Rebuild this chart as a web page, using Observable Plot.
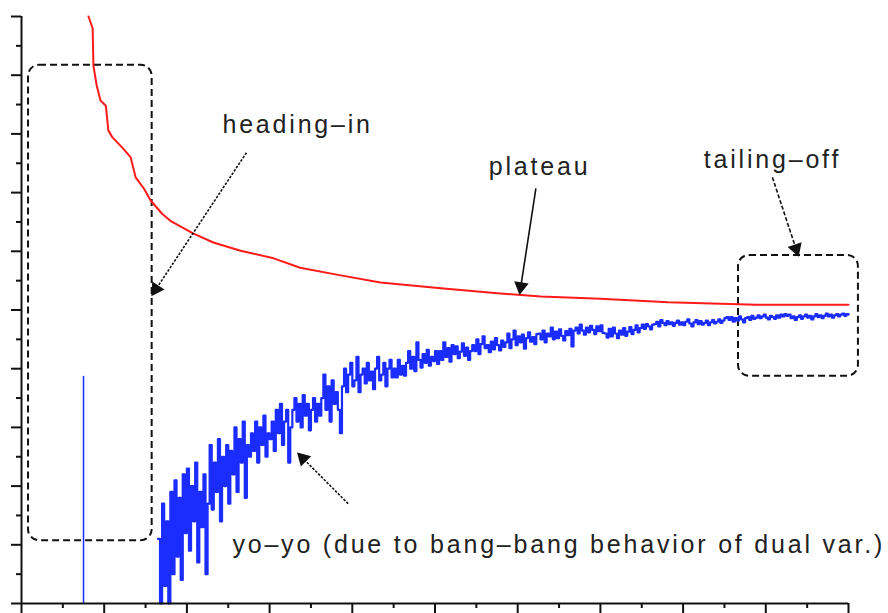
<!DOCTYPE html>
<html>
<head>
<meta charset="utf-8">
<script src="https://cdn.jsdelivr.net/npm/d3@7"></script>
<script src="https://cdn.jsdelivr.net/npm/@observablehq/plot@0.6"></script>
<style>
  html, body { margin: 0; padding: 0; background: #fff; }
  #chart { width: 888px; height: 613px; overflow: hidden; }
</style>
</head>
<body>
<div id="chart"></div>
<script>
// ---- tick positions (no labels in the original) ----
const xMajorTicks = [0, 10, 20, 30, 40, 50, 60, 70, 80, 90, 100];
const xMinorTicks = [5, 15, 25, 35, 45, 55, 65, 75, 85, 95];
const yMajorTicks = [0, 10, 20, 30, 40, 50, 60, 70, 80, 90, 100];
const yMinorTicks = [5, 15, 25, 35, 45, 55, 65, 75, 85, 95];

// ---- red series (primal bound, stepping down) ----
const redX = [8.1, 8.6, 8.7, 9.1, 9.55, 10.2, 10.5, 11.0, 12.3, 13.2, 13.8, 14.8, 15.6, 17.0, 18.0,
              20.8, 23.2, 26.5, 30.5, 33.7, 38.6, 43.4, 50.7, 57.9, 62.8, 70.0, 78.2, 88.8, 100];
const redY = [100, 98.0, 91.6, 88.2, 85.7, 84.8, 80.6, 79.4, 77.5, 76.0, 72.6, 70.7, 68.7, 66.4, 65.2,
              63.0, 61.5, 60.1, 58.8, 57.2, 55.9, 54.7, 53.7, 52.8, 52.3, 51.9, 51.3, 50.9, 50.9];

// ---- blue series (dual bound, noisy) ----
const blueSpikeX = [7.5];
const blueSpikeY = [38.7];

const blueEarlyStart = 16.5, blueEarlyStep = 0.25;
const blueEarlyY = [
  11, 0, 17, 3, 14, 0, 19, 5,
  21, 8, 18, 4, 22,
  12, 23, 9, 20, 14, 24, 7, 19, 13, 22, 5, 17,
  27, 16, 24, 19, 28, 14, 25, 20, 27, 17, 26,
  22, 30, 19, 28, 24, 31, 18, 27, 25, 29,
  26, 31, 24, 30, 27, 32, 25, 29, 28, 31, 26,
  33, 29, 34, 27, 31, 33, 24, 30,
  33, 35, 31, 34, 30, 35.5, 32, 34, 29.5, 33, 35, 31, 34, 32,
  35, 39, 33, 37, 31, 38, 34, 36, 33, 29,
  37, 40, 36, 39, 41, 37, 38, 42, 36, 39, 40, 37.5, 41, 38, 39.5, 36.5, 40, 42, 38, 39, 41, 37, 40, 41.5, 38.5
];
const blueLateStart = 45, blueLateStep = 0.25;
const blueLateY = [
  40, 38.5, 41.5, 39, 40.5, 38.8,
  41, 43, 40, 42, 39.6, 44.5, 41.5, 40.2, 42.5, 41, 43.2, 40.5, 42, 41.3, 43, 40.8,
  43, 41.5, 44.5, 42, 43.5, 41.2, 44, 42.5, 43.8, 41.8, 42.9, 44.3, 42.2, 43.6, 41.5, 43,
  44, 43, 45, 42.5, 44.2, 45.5, 43.5, 44, 42.8, 44.6, 43.3, 45.2, 44, 43.1, 44.8, 43.7,
  44.5, 46, 43.5, 45, 46.5, 44, 45.5, 44.5, 45.8, 43.4, 45.2, 46.2, 44.6, 45.4, 44.2, 45.9,
  46, 45, 46.5, 44.5, 46, 45.5, 47, 45, 46.3, 45.2, 46.7, 45.6, 44.8, 46.4, 45.7, 46.8,
  43.8, 46.5, 47, 46, 47.5, 46.5, 45.8, 47, 46.2, 47.3, 46.6, 45.9, 47.2, 46.4, 47.4, 46.1,
  46, 45.3, 46.8, 45.5, 47, 46, 45.2, 46.5, 45.8, 46.9, 45.6, 46.3, 47.1, 45.9, 46.6, 47.4,
  46.2, 46.9, 47.5, 46.8, 47.6, 47.2, 46.7, 47.5,
  47.6, 48, 47.2, 48.3, 47.8, 47.4, 48.1, 47.6, 47.9, 47.3, 47.8, 48.2, 47.5, 47.9, 47.4, 48.0,
  48.4, 47.7, 47.2, 47.9, 48.3, 47.6, 48.1, 47.5, 47.8, 48.2, 47.4, 47.9, 48.3, 47.7, 48.0, 48.4,
  47.8, 48.2, 48.6, 48.8,
  48.3, 48.8, 48.0, 48.6, 48.2, 48.9, 48.4, 47.9, 48.6, 48.8, 48.3, 49.0, 48.5, 48.7, 49.1,
  48.6, 48.9, 49.2, 48.7, 48.4, 49.0, 48.8, 48.5, 49.1, 48.7, 49.2, 48.9, 49.3, 49.0, 49.2,
  48.6, 48.9, 48.3, 48.8, 49.1, 48.5, 48.9, 49.2, 48.7, 49.0, 48.4, 48.9, 49.3, 48.8, 49.1,
  48.6, 49.0, 49.4, 48.9, 49.2, 48.7, 49.1, 49.3, 48.9, 49.2, 49.4, 49.0, 49.3, 49.2
];

// ---- annotations ----
const labelText = ["heading\u2013in", "plateau", "tailing\u2013off", "yo\u2013yo (due to bang\u2013bang behavior of dual var.)"];
const labelX = [24.3, 56.5, 82.5, 25.5];
const labelY = [81.6, 74.3, 75.6, 9.9];

const arrowX1 = [27.2, 62.2, 90.8, 39.5];
const arrowY1 = [76.8, 70.7, 72.6, 17.0];
const arrowX2 = [16.0, 60.3, 93.8, 33.7];
const arrowY2 = [53.0, 53.3, 59.8, 25.2];
const arrowDash = ["2.5,1.5", "none", "4,2", "2.5,1.5"];

const boxX1 = [0.85, 86.7];
const boxX2 = [15.8, 101.2];
const boxY1 = [10.7, 38.7];
const boxY2 = [91.7, 59.3];

// ---- build tables ----
const W = 888, H = 613, mL = 21, mR = 40, mT = 16, mB = 10;
const pxX = (W - mL - mR) / 100, pxY = (H - mT - mB) / 100;

const red = redX.map((x, i) => ({x, y: redY[i]}));
const blue = [
  ...blueEarlyY.map((y, i) => ({x: blueEarlyStart + i * blueEarlyStep, y})),
  ...blueLateY.map((y, i) => ({x: blueLateStart + i * blueLateStep, y}))
];
const spikes = blueSpikeX.map((x, i) => ({x, y: blueSpikeY[i]}));
const labels = labelText.map((t, i) => ({t, x: labelX[i], y: labelY[i]}));
const arrows = arrowX1.map((x1, i) => {
  const dxp = (arrowX2[i] - x1) * pxX, dyp = -(arrowY2[i] - arrowY1[i]) * pxY;
  const len = Math.hypot(dxp, dyp);
  const back = 4;
  return {
    x1, y1: arrowY1[i], x2: arrowX2[i], y2: arrowY2[i], dash: arrowDash[i],
    hx: arrowX2[i] - (dxp / len) * back / pxX,
    hy: arrowY2[i] + (dyp / len) * back / pxY,
    angle: Math.atan2(dxp, -dyp) * 180 / Math.PI
  };
});
const boxes = boxX1.map((x1, i) => ({x1, x2: boxX2[i], y1: boxY1[i], y2: boxY2[i]}));

const font = "Liberation Sans, Arial, Helvetica, sans-serif";

const plot = Plot.plot({
  width: W, height: H,
  marginLeft: mL, marginRight: mR, marginTop: mT, marginBottom: mB,
  x: {domain: [0, 100]},
  y: {domain: [0, 100]},
  style: {background: "white", overflow: "visible"},
  marks: [
    Plot.rect(boxes, {x1: "x1", x2: "x2", y1: "y1", y2: "y2", fill: "none", stroke: "#111",
      strokeWidth: 2, strokeDasharray: "7,4", rx: 11}),
    Plot.line(red, {x: "x", y: "y", stroke: "#ff1a1a", strokeWidth: 2}),
    Plot.ruleX(spikes, {x: "x", y1: 0, y2: "y", stroke: "#1a2cff", strokeWidth: 1.5}),
    Plot.line(blue, {x: "x", y: "y", stroke: "#1a2cff", strokeWidth: 2.2, curve: "step-after"}),
    ...arrows.map(a => Plot.link([a], {x1: "x1", y1: "y1", x2: "x2", y2: "y2", stroke: "#111",
      strokeWidth: 1.6, strokeDasharray: a.dash})),
    Plot.dot(arrows, {x: "hx", y: "hy", symbol: "triangle", r: 4.5, fill: "#111", stroke: "#111",
      rotate: "angle"}),
    Plot.text(labels, {x: "x", y: "y", text: "t", textAnchor: "start", lineAnchor: "middle",
      fontSize: 25, fontFamily: font, fill: "#222"}),
    Plot.ruleY([0], {stroke: "#111", strokeWidth: 2}),
    Plot.ruleX([0], {stroke: "#111", strokeWidth: 2}),
    Plot.axisX({ticks: xMajorTicks, tickSize: 10, tickFormat: () => "", label: null, strokeWidth: 2, stroke: "#111"}),
    Plot.axisX({ticks: xMinorTicks, tickSize: 5, tickFormat: () => "", label: null, strokeWidth: 2, stroke: "#111"}),
    Plot.axisY({ticks: yMajorTicks, tickSize: 10, tickFormat: () => "", label: null, strokeWidth: 2, stroke: "#111"}),
    Plot.axisY({ticks: yMinorTicks, tickSize: 5, tickFormat: () => "", label: null, strokeWidth: 2, stroke: "#111"})
  ]
});
document.getElementById("chart").appendChild(plot);
plot.querySelectorAll('g[aria-label="text"] text').forEach(t => { t.style.letterSpacing = "2.8px"; });
</script>
</body>
</html>
